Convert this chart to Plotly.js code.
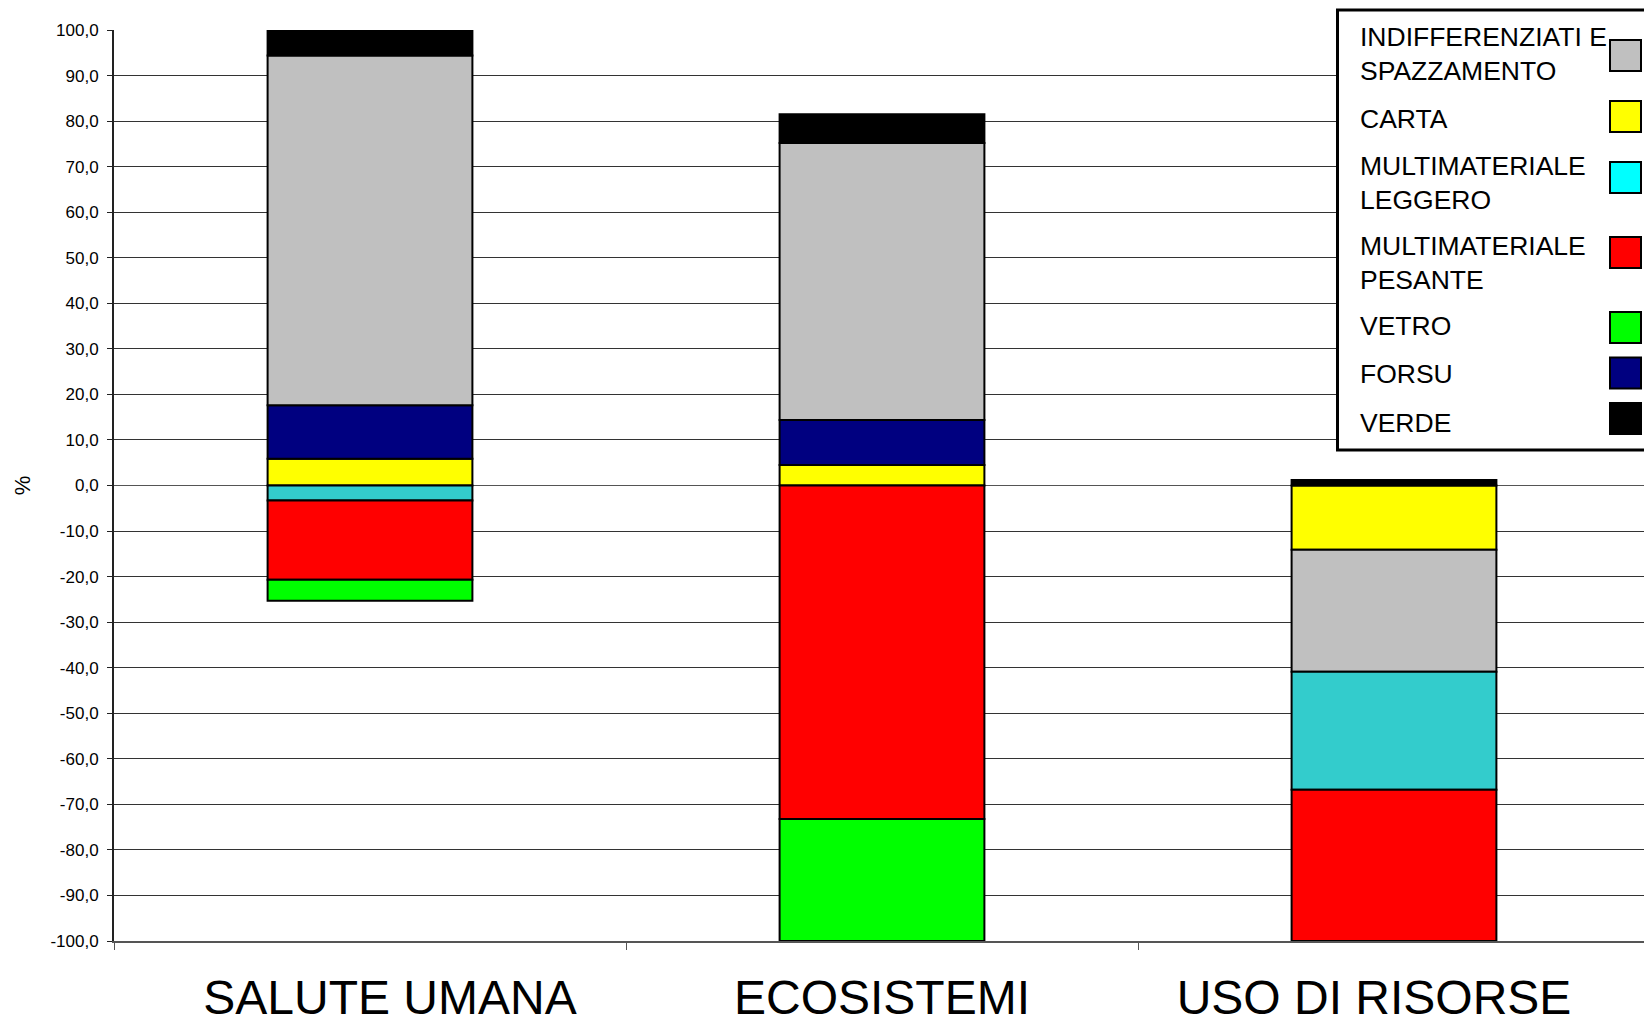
<!DOCTYPE html>
<html>
<head>
<meta charset="utf-8">
<script src="https://cdn.plot.ly/plotly-3.0.1.min.js"></script>
<style>
html,body{margin:0;padding:0;overflow:hidden;background:#fff;width:1644px;height:1019px}
</style>
</head>
<body>
<div id="chart" style="width:1652px;height:1019px"></div>
<script>
// ---- DATA ----
const categories = ['SALUTE UMANA', 'ECOSISTEMI', 'USO DI RISORSE'];
// category tick labels (non-breaking spaces nudge the labels as in the original)
const categoryLabels = ['\u00A0\u00A0\u00A0SALUTE UMANA', 'ECOSISTEMI', 'USO DI RISORSE\u00A0\u00A0\u00A0'];
// values in % (stacking order: carta, forsu, indiff, leggero, pesante, vetro, verde)
const carta        = [5.9,   4.5,  -14.1];
const forsu        = [11.7,  9.9,  null];
const indiff       = [76.8,  60.8, -26.8];
const multiLeggero = [-3.3,  null, -25.9];
const multiPesante = [-17.4, -73.2, -33.2];
const vetro        = [-4.6,  -26.8, null];
const verde        = [5.6,   6.3,   1.2];

const seriesNames = ['INDIFFERENZIATI E SPAZZAMENTO', 'CARTA', 'MULTIMATERIALE LEGGERO',
                     'MULTIMATERIALE PESANTE', 'VETRO', 'FORSU', 'VERDE'];
const legendLabels = ['INDIFFERENZIATI E<br>SPAZZAMENTO', 'CARTA', 'MULTIMATERIALE<br>LEGGERO',
                      'MULTIMATERIALE<br>PESANTE', 'VETRO', 'FORSU', 'VERDE'];
const yTickValues = [-100, -90, -80, -70, -60, -50, -40, -30, -20, -10, 0,
                     10, 20, 30, 40, 50, 60, 70, 80, 90, 100];
const yTickLabels = yTickValues.map(v => v.toFixed(1).replace('.', ','));

// ---- STYLE ----
const barColors = {
  'INDIFFERENZIATI E SPAZZAMENTO': '#C0C0C0',
  'CARTA': '#FFFF00',
  'MULTIMATERIALE LEGGERO': '#33CCCC',
  'MULTIMATERIALE PESANTE': '#FF0000',
  'VETRO': '#00FF00',
  'FORSU': '#000080',
  'VERDE': '#000000'
};
const swatchColors = ['#C0C0C0', '#FFFF00', '#00FFFF', '#FF0000', '#00FF00', '#000080', '#000000'];

const FONT = 'Liberation Sans, Arial, Helvetica, sans-serif';
const W = 1652, H = 1019, ML = 114, MR = 2, MT = 30, MB = 78;
const PW = W - ML - MR, PH = H - MT - MB;
const px = p => (p - ML) / PW;
const py = p => 1 - (p - MT) / PH;

function bar(name, values) {
  return {
    type: 'bar', name: name, x: categories, y: values,
    marker: { color: barColors[name], line: { color: '#000', width: 2 } },
    showlegend: false, hoverinfo: 'name+y'
  };
}

const traces = [
  bar('CARTA', carta),
  bar('FORSU', forsu),
  bar('INDIFFERENZIATI E SPAZZAMENTO', indiff),
  bar('MULTIMATERIALE LEGGERO', multiLeggero),
  bar('MULTIMATERIALE PESANTE', multiPesante),
  bar('VETRO', vetro),
  bar('VERDE', verde)
];

// ---- custom legend (swatches on the right, as in the original) ----
const legTextY = [54.4, 118.8, 182.5, 262.7, 326, 374, 422.5];
const legSwatchTop = [40, 101, 162, 237, 312, 357.5, 403];
const SW = 31;
const shapes = [{
  type: 'rect', xref: 'paper', yref: 'paper', layer: 'above',
  x0: px(1337.5), x1: px(1720), y0: py(10), y1: py(450),
  line: { color: '#000', width: 3 }, fillcolor: '#fff'
}];
const annotations = [];
legendLabels.forEach((lab, i) => {
  shapes.push({
    type: 'rect', xref: 'paper', yref: 'paper', layer: 'above',
    x0: px(1610), x1: px(1610 + SW), y0: py(legSwatchTop[i]), y1: py(legSwatchTop[i] + SW),
    line: { color: '#000', width: 2 }, fillcolor: swatchColors[i]
  });
  annotations.push({
    xref: 'paper', yref: 'paper', x: px(1358), y: py(legTextY[i]),
    xanchor: 'left', yanchor: 'middle', align: 'left', showarrow: false,
    text: lab, font: { family: FONT, size: 26.5, color: '#000' }
  });
});

const layout = {
  width: W, height: H,
  margin: { l: ML, r: MR, t: MT, b: MB, pad: 0 },
  paper_bgcolor: '#fff', plot_bgcolor: '#fff',
  barmode: 'relative', bargap: 0.6,
  font: { family: FONT, color: '#000' },
  xaxis: {
    type: 'category', showgrid: false, zeroline: false,
    tickmode: 'array', tickvals: categories, ticktext: categoryLabels,
    showline: true, linecolor: '#555', linewidth: 2,
    ticks: 'outside', tickson: 'boundaries', ticklen: 7, tickcolor: '#555', tickwidth: 1,
    tickfont: { family: FONT, size: 48, color: '#000' },
    ticklabelstandoff: 13, automargin: false
  },
  yaxis: {
    range: [-100, 100], autorange: false,
    tickmode: 'array', tickvals: yTickValues, ticktext: yTickLabels,
    showgrid: true, gridcolor: '#333', gridwidth: 1,
    zeroline: true, zerolinecolor: '#555', zerolinewidth: 1,
    showline: true, linecolor: '#222', linewidth: 2,
    ticks: 'outside', ticklen: 5, tickcolor: '#222', tickwidth: 1,
    tickfont: { family: FONT, size: 17, color: '#000' },
    ticklabelstandoff: 5, automargin: false,
    title: { text: '%', font: { family: FONT, size: 22, color: '#000' }, standoff: 14 }
  },
  shapes: shapes,
  annotations: annotations
};

Plotly.newPlot('chart', traces, layout, { displayModeBar: false, staticPlot: true });
</script>
</body>
</html>
